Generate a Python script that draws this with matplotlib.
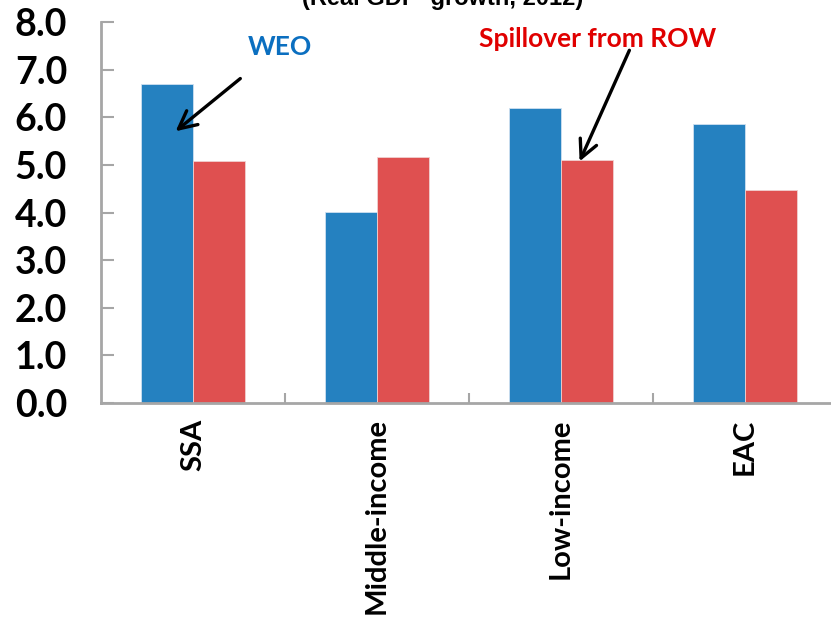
import numpy as np
import matplotlib
matplotlib.use("Agg")
import matplotlib.pyplot as plt

# Real GDP growth 2012, by region group
categories = ["SSA", "Middle-income", "Low-income", "EAC"]
weo = [6.70, 4.01, 6.20, 5.86]
spillover = [5.08, 5.17, 5.10, 4.48]
yticks = [0.0, 1.0, 2.0, 3.0, 4.0, 5.0, 6.0, 7.0, 8.0]

BLUE = "#2581c0"
RED = "#df5050"
GRID_GREY = "#a6a6a6"
LABEL_FONT = ["Lato", "DejaVu Sans"]

fig = plt.figure(figsize=(8.31, 6.17), dpi=100)
ax = fig.add_axes([0.1215, 0.3468, 0.8857, 0.6175])

x = np.arange(len(categories))
w = 0.285
ax.bar(x - w / 2, weo, w, color=BLUE, edgecolor="#cfe0f0", linewidth=0.6)
ax.bar(x + w / 2, spillover, w, color=RED, edgecolor="#f0d0d0", linewidth=0.6)

ax.set_xlim(-0.5, len(categories) - 0.5)
ax.set_ylim(0, 8)

for side in ("top", "right"):
    ax.spines[side].set_visible(False)
for side in ("left", "bottom"):
    ax.spines[side].set_color(GRID_GREY)
    ax.spines[side].set_linewidth(2)

ax.set_yticks(yticks)
ax.set_yticklabels([f"{v:.1f}" for v in yticks], fontsize=27, fontweight="bold",
                   family=LABEL_FONT)
ax.tick_params(axis="y", direction="in", length=9, width=1.5, color=GRID_GREY, pad=62)
for lbl in ax.get_yticklabels():
    lbl.set_horizontalalignment("left")

ax.set_xticks(x)
ax.set_xticklabels(categories, rotation=90, fontsize=21, fontweight="bold",
                   family=LABEL_FONT)
ax.tick_params(axis="x", which="major", length=0, pad=11)
ax.set_xticks(x[:-1] + 0.5, minor=True)
ax.tick_params(axis="x", which="minor", direction="in", length=7, width=1.5,
               color=GRID_GREY)

# callouts for the two series
arrow = dict(arrowstyle="->", lw=2.4, color="black", mutation_scale=32)
ax.annotate("", xy=(-0.106, 5.67), xytext=(0.269, 6.85), arrowprops=arrow)
ax.text(0.47, 7.48, "WEO", color="#0b6fc0", fontsize=19, fontweight="bold",
        family=LABEL_FONT, ha="center", va="center")
ax.annotate("", xy=(2.095, 5.02), xytext=(2.378, 7.46), arrowprops=arrow)
ax.text(2.198, 7.65, "Spillover from ROW", color="#e00000", fontsize=19,
        fontweight="bold", family=LABEL_FONT, ha="center", va="center",
        clip_on=False)

fig.text(443 / 831, 1 - 10 / 617, "(Real GDP  growth, 2012)", ha="center",
         va="bottom", fontsize=17, fontweight="bold", family="Liberation Sans")

fig.savefig("out.png", dpi=100)
